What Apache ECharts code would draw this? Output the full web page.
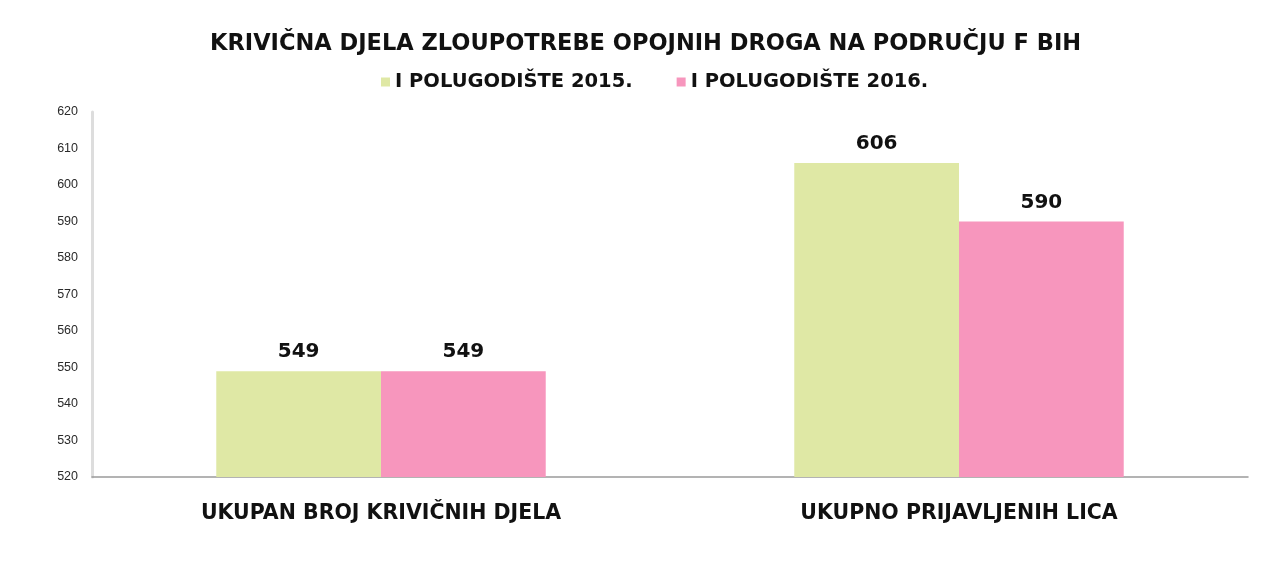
<!DOCTYPE html>
<html>
<head>
<meta charset="utf-8">
<script src="https://cdn.jsdelivr.net/npm/echarts@6/dist/echarts.min.js"></script>
<style>
  html, body { margin: 0; padding: 0; background: #fff; }
  #chart { width: 1271px; height: 566px; }
</style>
</head>
<body>
<div id="chart"></div>
<script>
// kategorije i vrijednosti
var categories = ['UKUPAN BROJ KRIVIČNIH DJELA', 'UKUPNO PRIJAVLJENIH LICA'];
var seriesNames = ['I POLUGODIŠTE 2015.', 'I POLUGODIŠTE 2016.'];
var values2015 = [549, 606];
var values2016 = [549, 590];
var yTicks = { min: 520, max: 620, interval: 10 };

var chart = echarts.init(document.getElementById('chart'));

var labelStyle = {
    show: true,
    position: 'top',
    distance: 9,
    color: '#111',
    fontFamily: 'DejaVu Sans',
    fontWeight: 'bold',
    fontSize: 20
};

var option = {
    backgroundColor: '#fff',
    animation: false,
    title: {
        text: 'KRIVIČNA DJELA ZLOUPOTREBE OPOJNIH DROGA NA PODRUČJU F BIH',
        left: 205,
        top: 28,
        textStyle: {
            fontFamily: 'DejaVu Sans',
            fontWeight: 'bold',
            fontSize: 22.5,
            color: '#111'
        }
    },
    legend: {
        data: seriesNames,
        top: 67,
        left: 376,
        itemWidth: 9,
        itemHeight: 9,
        itemGap: 44,
        icon: 'rect',
        textStyle: {
            fontFamily: 'DejaVu Sans',
            fontWeight: 'bold',
            fontSize: 19.5,
            color: '#111'
        }
    },
    grid: {
        left: 92,
        right: 23,
        top: 112,
        bottom: 89
    },
    xAxis: {
        type: 'category',
        data: categories,
        axisLine: { lineStyle: { color: '#9a9a9a', width: 1.5 } },
        axisTick: { show: false },
        axisLabel: {
            margin: 26,
            color: '#111',
            fontFamily: 'DejaVu Sans',
            fontWeight: 'bold',
            fontSize: 20.5
        }
    },
    yAxis: {
        type: 'value',
        min: yTicks.min,
        max: yTicks.max,
        interval: yTicks.interval,
        axisLine: { show: true, lineStyle: { color: '#dddddd', width: 3 } },
        axisTick: { show: false },
        splitLine: { show: false },
        axisLabel: {
            margin: 14,
            color: '#2a2a2a',
            fontFamily: 'Liberation Sans',
            fontSize: 12.5
        }
    },
    series: [
        {
            name: seriesNames[0],
            type: 'bar',
            data: values2015,
            barWidth: '28.5%',
            barGap: '0%',
            itemStyle: { color: '#dfe8a5' },
            label: labelStyle
        },
        {
            name: seriesNames[1],
            type: 'bar',
            data: values2016,
            barWidth: '28.5%',
            itemStyle: { color: '#f796bd' },
            label: labelStyle
        }
    ]
};

chart.setOption(option);
</script>
</body>
</html>
